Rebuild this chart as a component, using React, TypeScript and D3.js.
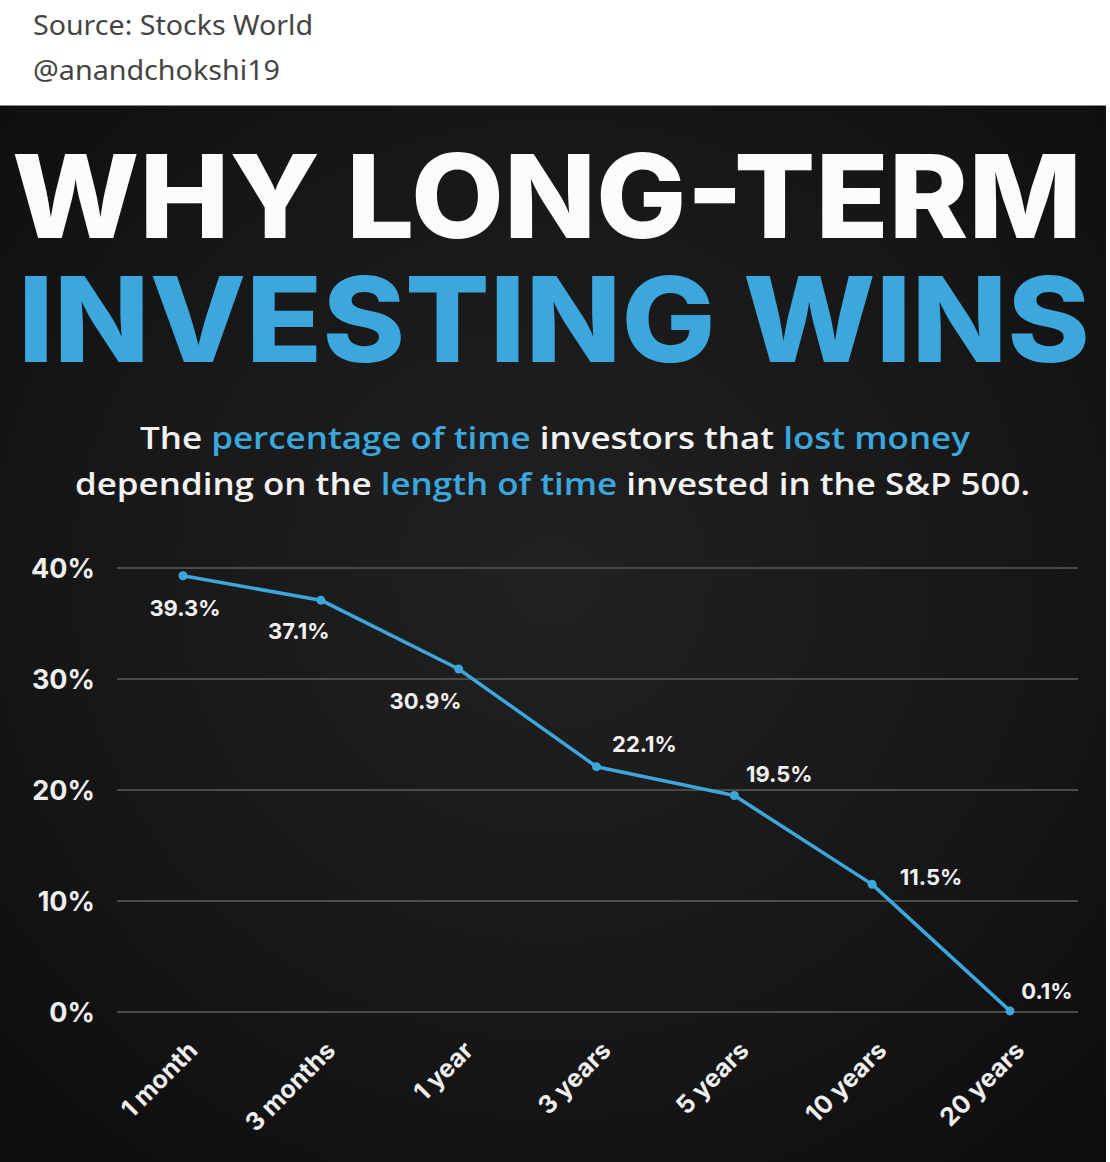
import React from "react"
import { scaleLinear, scalePoint, line } from "d3"

// data
const periods = ["1 month", "3 months", "1 year", "3 years", "5 years", "10 years", "20 years"]
const lossShare = [39.3, 37.1, 30.9, 22.1, 19.5, 11.5, 0.1]
const yTicks = [0, 10, 20, 30, 40]

// where each value label sits relative to its point (layout only)
const labelOffsets = [
  [2, 40], [-22, 39], [-33, 40], [48, -15], [45, -14], [59, 1], [37, -12],
]

const W = 1110
const H = 1162
const BLUE = "#3ba7dd"
const FONT = "Inter, 'Open Sans', sans-serif"

const App = () => {
  const x = scalePoint<string>().domain(periods).range([183, 1010])
  const y = scaleLinear().domain([0, 40]).range([1012, 568])

  const path = line<number>()
    .x((d, i) => x(periods[i]) as number)
    .y(d => y(d))

  return (
    <svg width={W} height={H} style={{ position: "absolute", left: 0, top: 0, background: "#fff" }}>
      <defs>
        <radialGradient id="bg" cx="50%" cy="45%" r="70%">
          <stop offset="0%" stopColor="#212122" />
          <stop offset="60%" stopColor="#171718" />
          <stop offset="100%" stopColor="#0e0e0f" />
        </radialGradient>
      </defs>

      {/* tweet header */}
      <text x={33} y={35} fontFamily="'Noto Sans', 'Open Sans', sans-serif" fontSize={28} fill="#444"
        textLength={280} lengthAdjust="spacingAndGlyphs">
        Source: Stocks World
      </text>
      <text x={33} y={80} fontFamily="'Noto Sans', 'Open Sans', sans-serif" fontSize={28} fill="#444"
        textLength={247} lengthAdjust="spacingAndGlyphs">
        @anandchokshi19
      </text>

      {/* dark panel */}
      <rect x={0} y={105} width={1106} height={H - 105} fill="url(#bg)" />
      <line x1={0} x2={1106} y1={105.5} y2={105.5} stroke="#8a8a8a" strokeWidth={1} />

      {/* title */}
      <text x={12} y={238} fontFamily={FONT} fontWeight={800} fontSize={116} fill="#fbfbfb"
        textLength={1070} lengthAdjust="spacingAndGlyphs">
        WHY LONG-TERM
      </text>
      <text x={18} y={362} fontFamily={FONT} fontWeight={800} fontSize={118} fill={BLUE}
        textLength={1072} lengthAdjust="spacingAndGlyphs">
        INVESTING WINS
      </text>

      {/* subtitle */}
      <text x={140} y={449} fontFamily="'Open Sans', sans-serif" fontWeight={600} fontSize={31} fill="#f2f2f2"
        textLength={830} lengthAdjust="spacingAndGlyphs">
        The <tspan fill={BLUE}>percentage of time</tspan> investors that <tspan fill={BLUE}>lost money</tspan>
      </text>
      <text x={75} y={495} fontFamily="'Open Sans', sans-serif" fontWeight={600} fontSize={31} fill="#f2f2f2"
        textLength={955} lengthAdjust="spacingAndGlyphs">
        depending on the <tspan fill={BLUE}>length of time</tspan> invested in the S&amp;P 500.
      </text>

      {/* grid + y axis */}
      {yTicks.map(t => (
        <g key={t}>
          <line x1={117} x2={1078} y1={y(t)} y2={y(t)} stroke="#4a4a4a" strokeWidth={2} />
          <text x={95} y={y(t) + 10} textAnchor="end" fontFamily={FONT} fontWeight={700} fontSize={27} fill="#eeeeee">
            {t}%
          </text>
        </g>
      ))}

      {/* series */}
      <path d={path(lossShare) || ""} fill="none" stroke={BLUE} strokeWidth={3.5} strokeLinejoin="round" />
      {lossShare.map((v, i) => (
        <circle key={i} cx={x(periods[i])} cy={y(v)} r={4.5} fill={BLUE} />
      ))}
      {lossShare.map((v, i) => (
        <text key={"l" + i} x={(x(periods[i]) as number) + labelOffsets[i][0]} y={y(v) + labelOffsets[i][1]}
          textAnchor="middle" fontFamily={FONT} fontWeight={700} fontSize={22} fill="#f0f0f0">
          {v}%
        </text>
      ))}

      {/* x axis labels */}
      {periods.map(p => {
        const px = (x(p) as number) + 16
        const py = 1052
        return (
          <text key={p} x={px} y={py} textAnchor="end" transform={`rotate(-45 ${px} ${py})`}
            fontFamily={FONT} fontWeight={700} fontSize={25} fill="#eeeeee">
            {p}
          </text>
        )
      })}
    </svg>
  )
}

export default App
